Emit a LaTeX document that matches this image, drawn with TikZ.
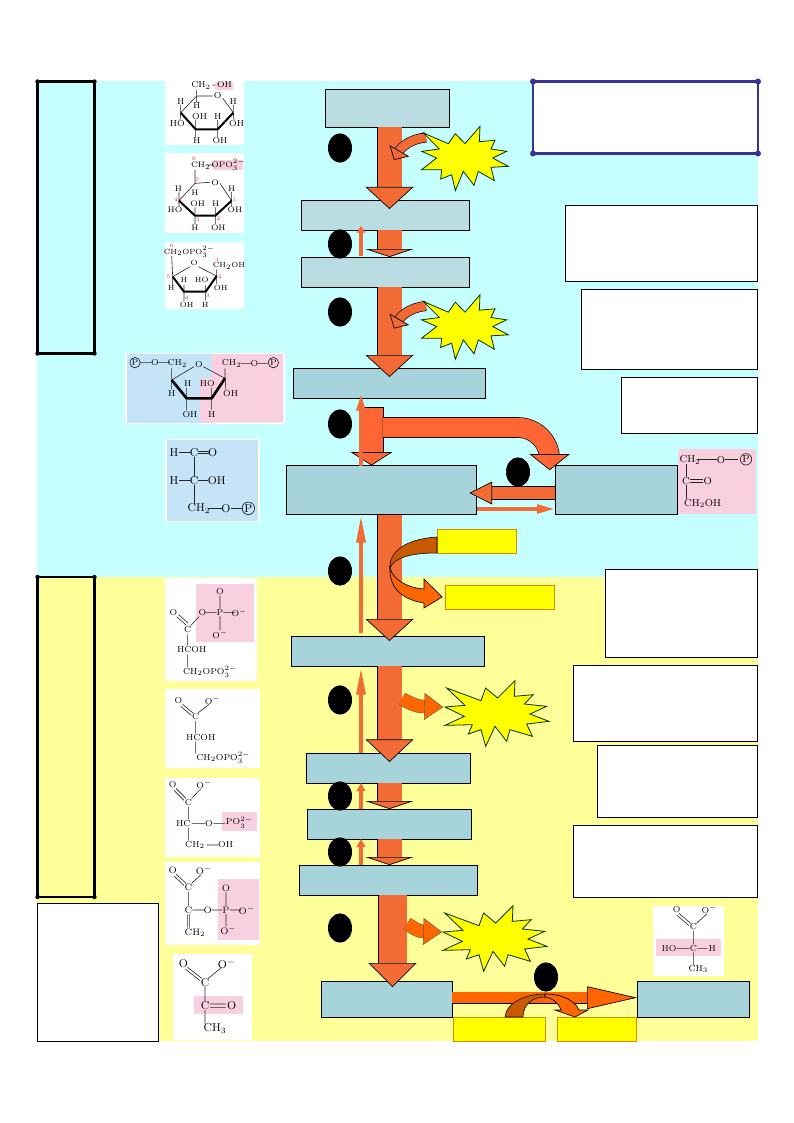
\documentclass[tikz,border=0pt]{standalone}
\usepackage{amsmath}
\usetikzlibrary{positioning,shapes.geometric,arrows.meta}
\definecolor{skybg}{HTML}{C6FFFF}
\definecolor{lemonbg}{HTML}{FFFF99}
\definecolor{paleteal}{HTML}{B9DDE3}
\definecolor{teal2}{HTML}{A6D4DA}
\definecolor{flowcol}{HTML}{F26B35}
\definecolor{splitcol}{HTML}{FF6633}
\definecolor{brightor}{HTML}{FF6600}
\definecolor{brownor}{HTML}{C85A00}
\definecolor{edgeor}{HTML}{E08A00}
\definecolor{framebl}{HTML}{333399}
\definecolor{pinkbg}{HTML}{F9D0DF}
\definecolor{bluebg}{HTML}{C5E4F7}
\definecolor{numred}{HTML}{D02060}
\definecolor{pureyel}{HTML}{FFFF00}
\newcommand{\atomset}[2]{\foreach \atx/\aty/\atl [count=\ati] in {#2} \node (#1\ati) [atom] at (\atx,\aty) {\atl};}
\begin{document}
\begin{tikzpicture}[x=0.75pt,y=-0.75pt,
    boxsize/.style 2 args={minimum width=#1*0.75pt,minimum height=#2*0.75pt,anchor=north west,inner sep=0pt,outer sep=0pt},
    metabox/.style={draw=black,line width=.5pt,fill=teal2},
    notebox/.style={draw=black,line width=.5pt,fill=white},
    nadbox/.style={draw=edgeor,line width=.5pt,fill=pureyel},
    framebox/.style={draw=black,line width=2pt},
    stepdot/.style={ellipse,fill=black,minimum width=18pt,minimum height=22pt,inner sep=0pt},
    flowdown/.style={double=flowcol,double distance=18pt,line width=.5pt,draw=black,
        -{Triangle[length=#1,width=36pt,fill=flowcol,line width=.5pt]}},
    flowside/.style={double=flowcol,double distance=9pt,line width=.5pt,draw=black,
        -{Triangle[length=17pt,width=17pt,fill=flowcol,line width=.5pt]}},
    thinup/.style={line width=3pt,draw=flowcol,-{Triangle[length=#1,width=6.5pt,fill=flowcol]}},
    atpout/.style={double=brightor,double distance=9.5pt,line width=.3pt,draw=black!70,
        -{Triangle[length=14pt,width=20pt,fill=brightor,line width=.3pt]}},
    atpbend/.style={double=flowcol,double distance=6.5pt,line width=.5pt,draw=black,
        -{Triangle[length=8pt,width=17pt,fill=flowcol,line width=.5pt]}},
    burstfill/.style={draw=black!80!green,line width=.6pt,fill=pureyel,line join=miter},
    burstsmall/.pic={\draw[burstfill,x=.25pt,y=-.25pt] (-125,-75)--(-50,-43)--(-29,-73)--(0,-43)--(45,-95)--(43,-49)--(90,-53)--(78,-27)--(125,-20)--(83,0)--(130,25)--(78,28)--(88,68)--(40,40)--(27,82)--(-5,40)--(-29,98)--(-40,50)--(-73,63)--(-70,35)--(-130,35)--(-85,0)--(-130,-20)--(-77,-27)--cycle;},
    burstbig/.pic={\draw[burstfill,x=.25pt,y=-.25pt] (-145,-75)--(-42,-37)--(-28,-75)--(8,-45)--(60,-97)--(58,-50)--(115,-55)--(88,-27)--(155,-20)--(105,3)--(162,25)--(95,33)--(112,70)--(45,50)--(35,85)--(0,40)--(-28,100)--(-42,50)--(-80,63)--(-68,35)--(-150,37)--(-92,10)--(-150,-18)--(-90,-23)--cycle;},
    molat/.style={shift={#1},x=.25pt,y=-.25pt},
    atom/.style={inner sep=0pt,font=\fontsize{6.5}{7}\selectfont},
    bond/.style={line width=.45pt,draw=black!85},
    boldbond/.style={line width=1.5pt,draw=black},
    phos/.style={atom,circle,draw,inner sep=.4pt}
    ]
    \useasboundingbox (0,0) rectangle (793,1123);
    % backgrounds
    \node (skyarea) [boxsize={721}{496},fill=skybg] at (37,81) {};
    \node (lemonarea) [boxsize={721}{464},fill=lemonbg] at (37,577) {};
    \node (sideone) [framebox,boxsize={57}{272},fill=skybg] at (37.5,81.5) {};
    \node (sidetwo) [framebox,boxsize={57}{320},fill=lemonbg] at (37.5,577) {};
    \node (legend) [notebox,boxsize={121}{138}] at (37,903) {};
    \node (titlebox) [boxsize={225}{72},draw=framebl,line width=2.2pt,fill=white] at (533,81.5) {};
    \foreach \c in {north west,north east,south west,south east} {
        \fill (sideone.\c) circle (2.2);
        \fill (sidetwo.\c) circle (2.2);
        \fill[framebl] (titlebox.\c) circle (3);
    }
    % notes on the right
    \node (noteA) [notebox,boxsize={192}{76}] at (565,205) {};
    \node (noteB) [notebox,boxsize={176}{80}] at (581,289) {};
    \node (noteC) [notebox,boxsize={136}{56}] at (621,377) {};
    \node (noteD) [notebox,boxsize={152}{88}] at (605,569) {};
    \node (noteE) [notebox,boxsize={184}{76}] at (573,665) {};
    \node (noteF) [notebox,boxsize={160}{72}] at (597,745) {};
    \node (noteG) [notebox,boxsize={184}{72}] at (573,825) {};
    % metabolites
    \node (glc) [metabox,fill=paleteal,boxsize={124}{38}] at (325,89) {};
    \node (gsix) [metabox,fill=paleteal,boxsize={168}{30}] at (301,200) {};
    \node (fsix) [metabox,fill=paleteal,boxsize={168}{30}] at (301,257) {};
    \node (fbp) [metabox,boxsize={192}{30}] at (293,368) {};
    \node (gap) [metabox,boxsize={190}{49}] at (286,465.5) {};
    \node (dhap) [metabox,boxsize={122}{49}] at (555,465.5) {};
    \node (bpg) [metabox,boxsize={193}{30}] at (291,636) {};
    \node (pgthree) [metabox,boxsize={164}{30}] at (306,753) {};
    \node (pgtwo) [metabox,boxsize={164}{30}] at (307,809) {};
    \node (pep) [metabox,boxsize={178}{30}] at (299,865) {};
    \node (pyr) [metabox,boxsize={131}{36}] at (321,981) {};
    \node (lac) [metabox,boxsize={112}{36}] at (637,981) {};
    \node (nadin) [nadbox,boxsize={79}{24}] at (437,529) {};
    \node (nadout) [nadbox,boxsize={109}{24}] at (445,585) {};
    \node (nadhin) [nadbox,boxsize={92}{24}] at (453,1017) {};
    \node (nadhout) [nadbox,boxsize={79}{24}] at (557,1017) {};
    \coordinate (spine) at (389.5,0);
    \coordinate (thinline) at (361,0);
    \coordinate (tstem) at (371.5,0);
    % main flow
    \draw[flowdown=16.5pt,shorten >=-6.75pt] (glc.south -| spine) -- (gsix.north -| spine);
    \draw[flowdown=6pt] (gsix.south -| spine) -- (fsix.north -| spine);
    \draw[flowdown=16.5pt,shorten >=-6.75pt] (fsix.south -| spine) -- (fbp.north -| spine);
    \draw[flowdown=16.5pt,shorten >=-3.75pt] (gap.south -| spine) -- (bpg.north -| spine);
    \draw[flowdown=17pt,shorten >=-6.75pt] (bpg.south -| spine) -- (pgthree.north -| spine);
    \draw[flowdown=6pt] (pgthree.south -| spine) -- (pgtwo.north -| spine);
    \draw[flowdown=6pt] (pgtwo.south -| spine) -- (pep.north -| spine);
    \coordinate (spinetwo) at (392.5,0);
    \draw[flowdown=18pt,double distance=21pt,shorten >=-4.5pt] (pep.south -| spinetwo) -- (pyr.north -| spinetwo);
    % split at the aldolase step
    \draw[double=splitcol,double distance=17pt,line width=.5pt,shorten <=6.75pt,
        -{Triangle[length=10pt,width=31pt,fill=splitcol,line width=.5pt]}] (fbp.south -| tstem) -- (gap.north -| tstem);
    \draw (360,407) -- (383,407);
    \coordinate (tstart) at (382.5,427.5);
    \coordinate (tland) at ([xshift=-4pt]dhap.north west);
    \draw[double=splitcol,double distance=14.5pt,line width=.5pt,rounded corners=24pt,shorten >=-3.5pt,
        -{Triangle[length=12pt,width=30pt,fill=splitcol,line width=.5pt]}] (tstart) -| (tland);
    \draw[flowside,shorten >=-5pt] ([yshift=-2.25pt]dhap.west) -- ([yshift=-2.25pt]gap.east);
    \draw[thinup=5pt,shorten <=.5pt,shorten >=-3pt] (fsix.north -| thinline) -- (gsix.south -| thinline);
    \draw[thinup=13pt,shorten >=-3.5pt] (gap.north -| thinline) -- (fbp.south -| thinline);
    \draw[thinup=21pt,shorten <=2pt] (bpg.north -| thinline) -- (gap.south -| thinline);
    \draw[thinup=21pt,shorten >=.5pt] (pgthree.north -| thinline) -- (bpg.south -| thinline);
    \draw[thinup=6pt] (pgtwo.north -| thinline) -- (pgthree.south -| thinline);
    \draw[thinup=6pt] (pep.north -| thinline) -- (pgtwo.south -| thinline);
    \coordinate (dhapback) at (477,509);
    \coordinate (dhapfront) at (554.5,509);
    \draw[thinup=13pt,line width=2.5pt] (dhapback) -- (dhapfront);
    % pyruvate to lactate
    \draw[double=brightor,double distance=8pt,line width=.5pt,
        -{Triangle[length=37.5pt,width=17pt,fill=brightor,line width=.5pt]}] ([yshift=1pt]pyr.east) -- ([yshift=1pt]lac.west);
    % nad loops
    \coordinate (loopmid) at (390,568);
    \draw[fill=brownor,line width=.4pt] (nadin.south west) .. controls (410,553) and (394,558) .. (loopmid) .. controls (389,552) and (405,539) .. (437,537) -- cycle;
    \draw[fill=brightor,line width=.5pt] (loopmid) .. controls (389,590) and (405,600) .. (424,603) -- (424,608) -- ([xshift=-2.2pt]nadout.west) -- (424,579) -- (424,589) .. controls (408,588) and (393,580) .. (loopmid) -- cycle;
    \coordinate (arcmid) at (545,994);
    \draw[fill=brownor,line width=.4pt] (505,1017) .. controls (506,1003) and (525,994) .. (arcmid) -- (545,997) .. controls (532,997) and (523,1005) .. (523,1017) -- cycle;
    \draw[fill=brightor,line width=.5pt] (arcmid) .. controls (563,994) and (575,1001) .. (579,1010) -- (588,1010) -- (575,1017) -- (555,1010) -- (561,1010) .. controls (558,1002) and (552,998) .. (545,997) -- cycle;
    % energy bursts
    \coordinate (noseA) at (426,137.5);
    \coordinate (dropA) at (394,160);
    \coordinate (noseB) at (426,306);
    \coordinate (dropB) at (394,328.5);
    \coordinate (leaveC) at (402,699);
    \coordinate (kneeC) at (424,706.5);
    \coordinate (noseC) at (443,707);
    \coordinate (leaveD) at (407,924);
    \coordinate (kneeD) at (424,931.5);
    \coordinate (noseD) at (442,932);
    \draw[atpbend] (noseA) to [out=185,in=60] (dropA);
    \draw[atpbend] (noseB) to [out=185,in=60] (dropB);
    \draw[atpout] (leaveC) to [out=-25,in=180] (kneeC) -- (noseC);
    \draw[atpout] (leaveD) to [out=-25,in=180] (kneeD) -- (noseD);
    \pic at (465,158) {burstsmall};
    \pic at (465,326.5) {burstsmall};
    \pic at (495,713) {burstbig};
    \pic at (493,938) {burstbig};
    % step markers
    \foreach \sy [count=\si] in {148,244,312,424,571,700,796,852,928}
        \node (mark\si) [stepdot] at (340,\sy) {};
    \node (markiso) [stepdot] at (518,472) {};
    \node (markldh) [stepdot] at (546,977) {};
    % glucose
    \begin{scope}[molat={(30,70)}]
    \fill[white] (405,33) rectangle (642,226);
    \fill[pinkbg] (555,35) rectangle (608,60);
    \atomset{glua}{545/46/{CH$_2$\,-\,OH},563/78/O,452/96/H,500/108/H,610/96/H,509/141/OH,563/141/H,442/160/HO,620/160/OH,500/213/H,570/213/OH}
    \draw[bond] (500,60)--(500,78)--(548,78) (578,85)--(610,128) (452,128)--(500,78) (452,128)--(452,105) (452,128)--(450,150) (500,78)--(500,98) (610,128)--(610,105) (610,128)--(612,150) (497,178)--(497,150) (497,178)--(497,202) (563,178)--(563,150) (563,178)--(563,202);
    \draw[boldbond,line join=round] (610,128)--(563,178)--(497,178)--(452,128);
    \end{scope}
    % glucose 6-phosphate
    \begin{scope}[molat={(30,70)},atom/.append style={font=\fontsize{6}{7}\selectfont}]
    \fill[white] (405,250) rectangle (642,488);
    \fill[pinkbg] (550,270) rectangle (640,300);
    \atomset{gsa}{512/287/CH$_2$,595/285/{OPO$_3^{2-}$},555/337/O,445/356/H,495/368/H,605/356/H,503/402/OH,557/402/H,435/420/HO,615/420/OH,495/473/H,565/473/OH}
    \begin{scope}[atom/.append style={font=\fontsize{4}{4}\selectfont,text=numred}]
    \atomset{gsn}{492/266/6,502/328/5,438/390/4,615/390/1,503/450/3,565/447/2}
    \end{scope}
    \draw[bond] (495,300)--(495,340)--(540,337) (570,340)--(605,392) (447,392)--(495,340) (447,392)--(447,365) (447,392)--(447,410) (495,437)--(495,412) (495,437)--(495,462) (556,437)--(556,412) (556,437)--(556,462) (605,392)--(605,366) (605,392)--(605,410) (530,285)--(552,285);
    \draw[boldbond,line join=round] (605,392)--(556,437)--(495,437)--(447,392);
    \end{scope}
    % fructose 6-phosphate
    \begin{scope}[molat={(30,70)},atom/.append style={font=\fontsize{5.6}{7}\selectfont}]
    \fill[white] (405,515) rectangle (642,716);
    \atomset{fsa}{478/545/{CH$_2$OPO$_3^{2-}$},492/580/O,597/587/CH$_2$OH,462/630/H,515/630/HO,572/653/OH,424/653/H,470/704/OH,526/704/H}
    \begin{scope}[atom/.append style={font=\fontsize{4}{4}\selectfont,text=numred}]
    \atomset{fsn}{425/527/6,562/568/1,570/621/2,415/621/5,470/682/4,533/677/3}
    \end{scope}
    \draw[bond] (425,558)--(428,620)--(480,590) (505,590)--(560,618) (560,618)--(560,598) (560,618)--(560,642) (527,665)--(527,645) (527,665)--(527,692) (462,665)--(462,645) (462,665)--(462,692) (428,620)--(428,645);
    \draw[boldbond,line join=round] (560,618)--(527,665)--(462,665)--(428,620);
    \end{scope}
    % fructose 1,6-bisphosphate
    \begin{scope}[molat={(120,345)}]
    \fill[white] (16,23) rectangle (494,237);
    \fill[bluebg] (20,27) rectangle (275,233);
    \fill[pinkbg] (275,27) -- (490,27) -- (490,233) -- (240,233) -- (240,100) -- (275,100) -- cycle;
    \atomset{fba}{105/53/O,172/55/CH$_2$,237/58/O,335/55/CH$_2$,403/55/O,203/115/H,262/115/HO,155/145/H,332/147/OH,210/208/OH,275/208/H}
    \node (fbpA) [phos] at (45,53) {P};
    \node (fbpB) [phos] at (460,53) {P};
    \draw[bond] (60,53)--(95,53) (115,53)--(150,53) (362,55)--(392,55) (413,55)--(443,55) (155,70)--(155,105)--(222,65) (250,65)--(315,100) (155,105)--(155,133) (200,160)--(200,128) (200,160)--(200,195) (275,160)--(275,128) (275,160)--(275,195) (315,100)--(315,70) (315,100)--(318,135);
    \draw[boldbond,line width=2pt,line join=round] (315,100)--(275,160)--(200,160)--(155,105);
    \end{scope}
    % glyceraldehyde 3-phosphate
    \begin{scope}[molat={(120,345)},atom/.append style={font=\fontsize{8.5}{9}\selectfont},phos/.append style={font=\fontsize{8.5}{9}\selectfont}]
    \fill[white] (136,281) rectangle (419,531);
    \fill[bluebg] (140,285) rectangle (415,527);
    \atomset{gaa}{162/322/H,222/322/C,278/322/O,162/407/H,222/407/C,290/407/OH,237/490/CH$_2$,318/490/O}
    \node (gapP) [phos] at (385,490) {P};
    \draw[bond] (178,322)--(212,322) (235,318)--(268,318) (235,326)--(268,326) (222,335)--(222,395) (178,407)--(212,407) (235,407)--(265,407) (222,420)--(222,478) (268,490)--(305,490) (332,490)--(368,490);
    \end{scope}
    % dihydroxyacetone phosphate
    \begin{scope}[molat={(660,440)},atom/.append style={font=\fontsize{7.5}{8}\selectfont},phos/.append style={font=\fontsize{7.5}{8}\selectfont}]
    \fill[pinkbg] (55,28) rectangle (288,222);
    \atomset{dha}{90/60/CH$_2$,183/60/O,78/123/C,143/123/O,128/190/CH$_2$OH}
    \node (dhapP) [phos] at (258,58) {P};
    \draw[bond] (112,58)--(172,58) (195,58)--(235,58) (78,72)--(78,112) (90,118)--(130,118) (90,127)--(130,127) (78,135)--(78,178);
    \end{scope}
    % 1,3-bisphosphoglycerate
    \begin{scope}[molat={(160,575)}]
    \fill[white] (15,10) rectangle (292,318);
    \fill[pinkbg] (107,27) rectangle (283,200);
    \atomset{bpa}{40/113/O,83/165/C,127/113/O,180/113/P,180/50/O,238/113/O$^-$,180/178/O$^-$,95/225/HCOH,150/290/{CH$_2$OPO$_3^{2-}$}}
    \draw[bond] (50,125)--(78,150) (56,119)--(84,144) (92,152)--(117,125) (137,113)--(170,113) (190,113)--(225,113) (180,62)--(180,102) (180,124)--(180,165) (83,178)--(83,212) (83,238)--(83,277);
    \end{scope}
    % 3-phosphoglycerate
    \begin{scope}[molat={(160,575)}]
    \fill[white] (15,343) rectangle (300,580);
    \atomset{tpa}{55/378/O,158/376/O$^-$,107/425/C,122/487/HCOH,190/548/{CH$_2$OPO$_3^{2-}$}}
    \draw[bond] (68,388)--(100,415) (62,394)--(94,421) (115,413)--(147,388) (107,438)--(107,475) (107,500)--(107,535);
    \end{scope}
    % 2-phosphoglycerate
    \begin{scope}[molat={(160,575)}]
    \fill[white] (15,608) rectangle (300,845);
    \fill[pinkbg] (185,710) rectangle (290,767);
    \atomset{ppa}{38/630/O,132/628/O$^-$,85/682/C,70/745/HC,147/745/O,238/742/PO$_3^{2-}$,105/810/CH$_2$,197/810/OH}
    \draw[bond] (48,640)--(78,670) (42,646)--(72,676) (95,670)--(122,642) (85,695)--(85,733) (95,745)--(135,745) (160,745)--(195,745) (85,758)--(85,797) (140,810)--(175,810);
    \end{scope}
    % phosphoenolpyruvate
    \begin{scope}[molat={(160,860)},atom/.append style={font=\fontsize{7}{8}\selectfont}]
    \fill[white] (15,5) rectangle (300,255);
    \fill[pinkbg] (175,57) rectangle (298,240);
    \atomset{pea}{38/32/O,132/32/O$^-$,85/82/C,85/150/C,143/150/O,198/150/P,198/85/O,260/150/O$^-$,205/212/O$^-$,105/218/CH$_2$}
    \draw[bond] (48,42)--(78,70) (42,48)--(72,76) (95,70)--(122,45) (85,95)--(85,138) (97,150)--(132,150) (155,150)--(187,150) (210,150)--(245,150) (198,97)--(198,138) (198,162)--(198,200) (82,163)--(82,203) (88,163)--(88,203);
    \end{scope}
    % pyruvate
    \begin{scope}[molat={(160,860)},atom/.append style={font=\fontsize{8.5}{9}\selectfont}]
    \fill[white] (40,283) rectangle (275,540);
    \fill[pinkbg] (102,408) rectangle (248,463);
    \atomset{pya}{70/312/O,200/312/O$^-$,135/368/C,135/437/C,215/437/O,165/505/CH$_3$}
    \draw[bond] (83,322)--(125,355) (77,328)--(119,361) (145,355)--(185,322) (135,380)--(135,425) (150,432)--(197,432) (150,442)--(197,442) (135,450)--(135,492);
    \end{scope}
    % lactate
    \begin{scope}[molat={(300,890)}]
    \fill[white] (1060,47) rectangle (1272,257);
    \fill[pinkbg] (1067,148) rectangle (1262,198);
    \atomset{laa}{1130/60/O,1228/58/O$^-$,1180/110/C,1107/175/HO,1180/175/C,1237/175/H,1195/237/CH$_3$}
    \draw[bond] (1137,70)--(1172,100) (1131,76)--(1166,106) (1190,100)--(1220,72) (1180,122)--(1180,163) (1130,175)--(1168,175) (1192,175)--(1222,175) (1180,187)--(1180,225);
    \end{scope}
\end{tikzpicture}
\end{document}
